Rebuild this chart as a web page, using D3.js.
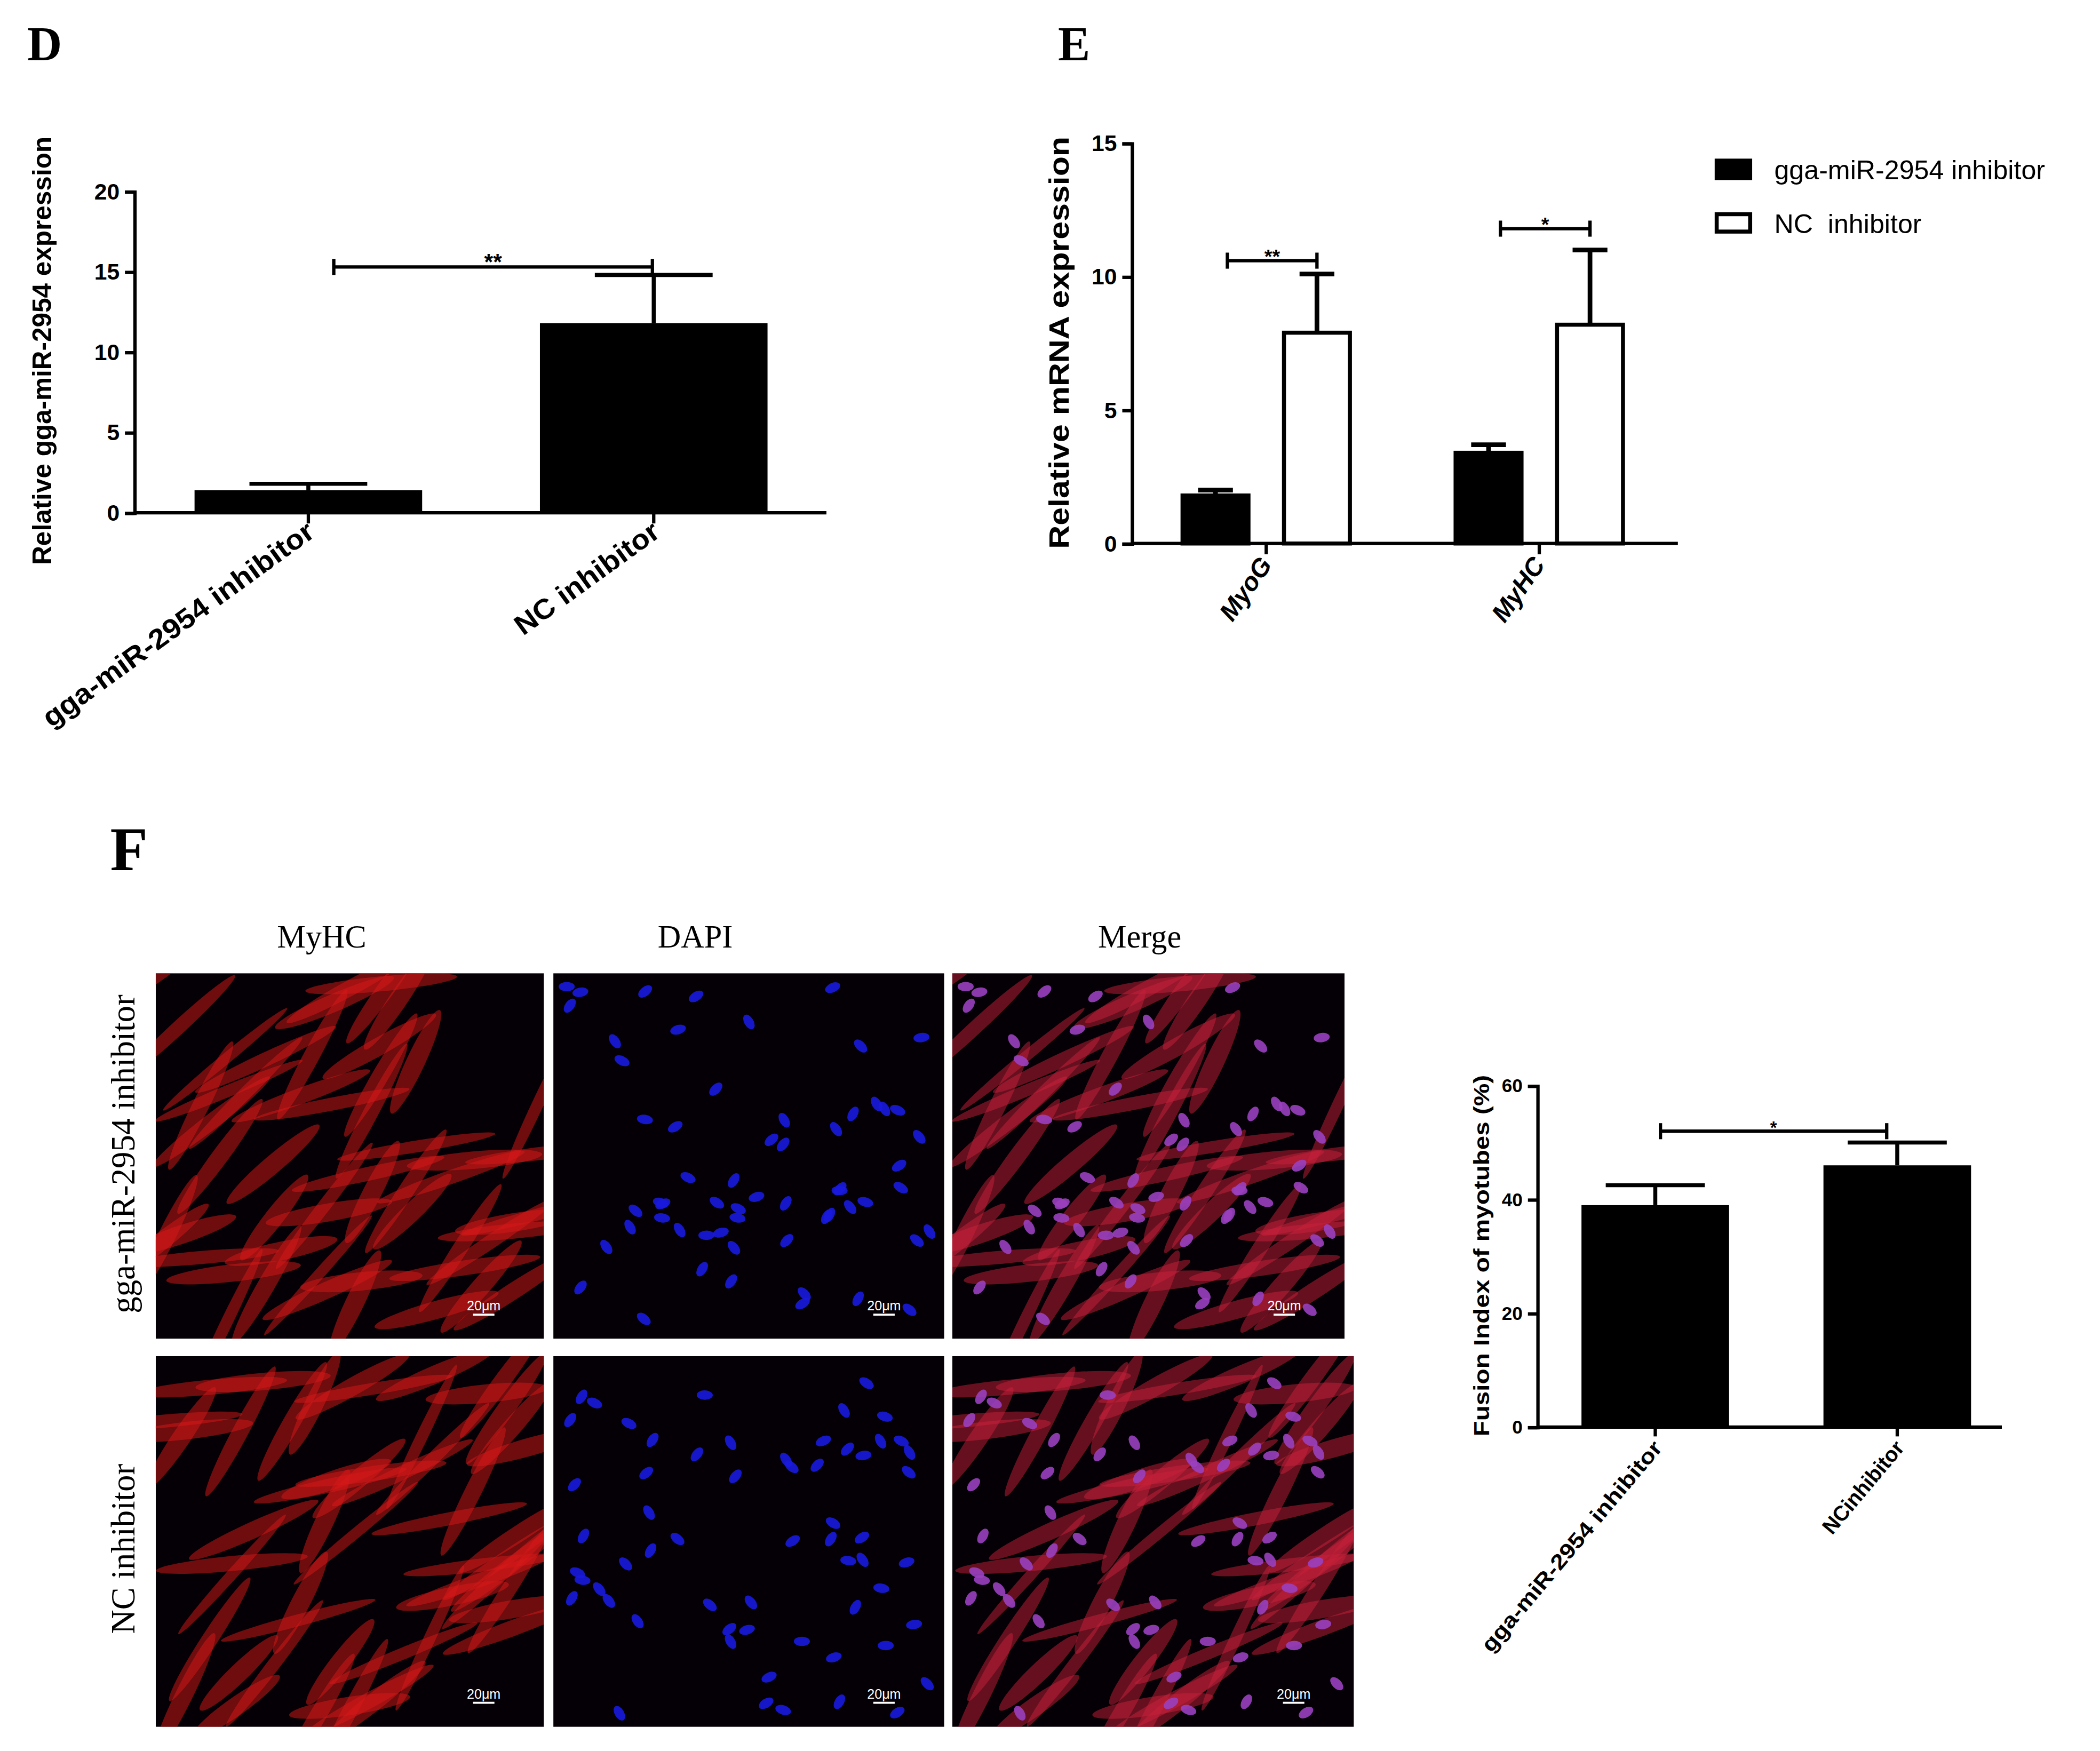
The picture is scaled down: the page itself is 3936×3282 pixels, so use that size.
<!DOCTYPE html>
<html><head><meta charset="utf-8">
<script src="https://cdn.jsdelivr.net/npm/d3@7"></script>
<style>body{margin:0;background:#fff}svg{display:block}</style></head>
<body><div id="c"></div>
<script>
const dCats = ["gga-miR-2954 inhibitor","NC inhibitor"];
const dVals = [1.4, 11.8];
const dErrs = [1.8, 14.8];
const dTicks = [0,5,10,15,20];

const eGenes = ["MyoG","MyHC"];
const eSeries = ["gga-miR-2954 inhibitor","NC  inhibitor"];
const eInh = [1.8, 3.4];
const eInhErr = [2.0, 3.7];
const eNC = [7.9, 8.2];
const eNCErr = [10.1, 11.0];
const eTicks = [0,5,10,15];
const eSig = ["**","*"];

const fCats = ["gga-miR-2954 inhibitor","NCinhibitor"];
const fVals = [39, 46];
const fErrs = [42.5, 50];
const fTicks = [0,20,40,60];

const W=1568,H=1308;
const svg=d3.select("#c").append("svg").attr("width",3936).attr("height",3282).attr("viewBox",`0 0 ${W} ${H}`);
const sans="'Liberation Sans',Arial,sans-serif", serif="'Liberation Serif','Times New Roman',serif";

function panelLetter(t,x,y,size){svg.append("text").attr("x",x).attr("y",y).text(t).attr("font-family",serif).attr("font-weight","bold").attr("font-size",size);}
panelLetter("D",20,45,36);panelLetter("E",790,45,36);panelLetter("F",82,650,46);

function bracket(g,x1,x2,y,label,fs){
  g.append("line").attr("x1",x1).attr("x2",x2).attr("y1",y).attr("y2",y).attr("stroke","#000").attr("stroke-width",2.5);
  g.append("line").attr("x1",x1).attr("x2",x1).attr("y1",y-6).attr("y2",y+6).attr("stroke","#000").attr("stroke-width",2.5);
  g.append("line").attr("x1",x2).attr("x2",x2).attr("y1",y-6).attr("y2",y+6).attr("stroke","#000").attr("stroke-width",2.5);
  g.append("text").attr("x",(x1+x2)/2).attr("y",y+2).attr("text-anchor","middle").text(label).attr("font-family",sans).attr("font-weight","bold").attr("font-size",fs);
}
function errBar(g,cx,y0,y1,hw,sw){
  g.append("line").attr("x1",cx).attr("x2",cx).attr("y1",y0).attr("y2",y1).attr("stroke","#000").attr("stroke-width",sw);
  g.append("line").attr("x1",cx-hw).attr("x2",cx+hw).attr("y1",y1).attr("y2",y1).attr("stroke","#000").attr("stroke-width",sw);
}
function yAxis(g,x,y,ticks,fs){
  const a=g.append("g").attr("transform",`translate(${x},0)`).call(d3.axisLeft(y).tickValues(ticks).tickSize(7).tickPadding(4));
  a.select(".domain").attr("stroke-width",2.5);a.selectAll("line").attr("stroke-width",2.5);
  a.selectAll("text").attr("font-family",sans).attr("font-weight","bold").attr("font-size",fs).attr("fill","#000");
}

// Panel D
{
 const g=svg.append("g");
 const y=d3.scaleLinear().domain([0,20]).range([383,143]);
 const x=d3.scaleBand().domain(dCats).range([145,573]).paddingInner(0.341).paddingOuter(0);
 yAxis(g,100,y,dTicks,17);
 dCats.forEach((c,i)=>{
  const cx=x(c)+x.bandwidth()/2;
  errBar(g,cx,y(dVals[i]),y(dErrs[i]),44,3);
  g.append("rect").attr("x",x(c)).attr("width",x.bandwidth()).attr("y",y(dVals[i])).attr("height",y(0)-y(dVals[i])).attr("fill","#000");
  g.append("line").attr("x1",cx).attr("x2",cx).attr("y1",383).attr("y2",391).attr("stroke","#000").attr("stroke-width",2.5);
  g.append("text").attr("transform",`translate(${cx+6},${400}) rotate(-36)`).attr("text-anchor","end").attr("font-family",sans).attr("font-weight","bold").attr("font-size",21).attr("textLength",i?128:245).attr("lengthAdjust","spacingAndGlyphs").text(c);
 });
 g.append("line").attr("x1",100).attr("x2",617).attr("y1",383).attr("y2",383).attr("stroke","#000").attr("stroke-width",2.5);
 bracket(g,249,487,y(15.3),"**",17);
 g.append("text").attr("transform","translate(38,262) rotate(-90)").attr("text-anchor","middle").attr("font-family",sans).attr("font-weight","bold").attr("font-size",20).attr("textLength",320).attr("lengthAdjust","spacingAndGlyphs").text("Relative gga-miR-2954 expression");
}
// Panel E
{
 const g=svg.append("g");
 const y=d3.scaleLinear().domain([0,15]).range([406,107]);
 const x=d3.scaleBand().domain(eGenes).range([883,1212]).paddingInner(0.387).paddingOuter(0);
 const xs=d3.scaleBand().domain([0,1]).range([0,x.bandwidth()]).paddingInner(0.35);
 yAxis(g,845,y,eTicks,17);
 eGenes.forEach((gn,i)=>{
  const vals=[eInh[i],eNC[i]],errs=[eInhErr[i],eNCErr[i]];
  [0,1].forEach(s=>{
   const bx=x(gn)+xs(s),cx=bx+xs.bandwidth()/2;
   errBar(g,cx,y(vals[s]),y(errs[s]),13,3.5);
   g.append("rect").attr("x",bx).attr("width",xs.bandwidth()).attr("y",y(vals[s])).attr("height",y(0)-y(vals[s])).attr("fill",s?"#fff":"#000").attr("stroke","#000").attr("stroke-width",3);
  });
  const cx=x(gn)+x.bandwidth()/2;
  g.append("line").attr("x1",cx).attr("x2",cx).attr("y1",406).attr("y2",414).attr("stroke","#000").attr("stroke-width",2.5);
  g.append("text").attr("transform",`translate(${cx+5},${422}) rotate(-55)`).attr("text-anchor","end").attr("font-family",sans).attr("font-weight","bold").attr("font-style","italic").attr("font-size",19).text(gn);
  const x1=x(gn)+xs(0)+xs.bandwidth()*0.68, x2=x(gn)+xs(1)+xs.bandwidth()/2;
  bracket(g,x1,x2,y(errs[1]+0.5+i*0.3),eSig[i],15);
 });
 g.append("line").attr("x1",845).attr("x2",1253).attr("y1",406).attr("y2",406).attr("stroke","#000").attr("stroke-width",2.5);
 g.append("text").attr("transform","translate(798,256) rotate(-90)").attr("text-anchor","middle").attr("font-family",sans).attr("font-weight","bold").attr("font-size",21).attr("textLength",308).attr("lengthAdjust","spacingAndGlyphs").text("Relative mRNA expression");
 eSeries.forEach((s,i)=>{
  g.append("rect").attr("x",1282).attr("y",120+i*40).attr("width",25).attr("height",13).attr("fill",i?"#fff":"#000").attr("stroke","#000").attr("stroke-width",3);
  g.append("text").attr("x",1325).attr("y",134+i*40).attr("font-family",sans).attr("font-size",20).attr("xml:space","preserve").style("white-space","pre").text(s);
 });
}
// Microscopy panels (illustrative)
{
 const g=svg.append("g");
 const cols=[[116,406],[413,705],[711,1004]], rows=[[727,1000],[1013,1290]];
 const titles=["MyHC","DAPI","Merge"], colX=[240,519,851];
 titles.forEach((t,i)=>g.append("text").attr("x",colX[i]).attr("y",708).attr("text-anchor","middle").attr("font-family",serif).attr("font-size",24).text(t));
 const rowLab=["gga-miR-2954 inhibitor","NC inhibitor"], rowC=[862,1157];
 rowLab.forEach((t,i)=>g.append("text").attr("transform",`translate(100,${rowC[i]}) rotate(-90)`).attr("text-anchor","middle").attr("font-family",serif).attr("font-size",25).text(t));
 const defs=svg.append("defs");
 rows.forEach((r,ri)=>cols.forEach((c,ci)=>{
  const x0=c[0],x1=(ri==1&&ci==2)?1011:c[1],y0=r[0],y1=r[1],w=x1-x0,h=y1-y0;
  const id=`clip${ri}${ci}`;
  defs.append("clipPath").attr("id",id).append("rect").attr("x",x0).attr("y",y0).attr("width",w).attr("height",h);
  const p=g.append("g").attr("clip-path",`url(#${id})`);
  p.append("rect").attr("x",x0).attr("y",y0).attr("width",w).attr("height",h).attr("fill","#050005");
  if(ci!==1){
   for(let k=0;k<55;k++){
    const fx=(Math.sin(k*12.9898+ri*3)*43758.5453)%1, fy=(Math.sin(k*78.233+ri*7)*12345.678)%1;
    const cx=x0+Math.abs(fx)*w, cy=y0+Math.abs(fy)*h;
    const ang=-35+30*Math.sin(k*1.7);
    p.append("ellipse").attr("cx",cx).attr("cy",cy).attr("rx",40+20*Math.abs(Math.sin(k))).attr("ry",4+3*Math.abs(Math.cos(k)))
     .attr("transform",`rotate(${ang},${cx},${cy})`).attr("fill",ci==2?"#c8203a":"#d81818").attr("opacity",0.5);
   }
  }
  if(ci!==0){
   for(let k=0;k<60;k++){
    const fx=(Math.sin(k*93.9898+ri*5)*23758.5453)%1, fy=(Math.sin(k*18.233+ri*2)*52345.678)%1;
    const cx=x0+10+Math.abs(fx)*(w-20), cy=y0+10+Math.abs(fy)*(h-20);
    p.append("ellipse").attr("cx",cx).attr("cy",cy).attr("rx",6).attr("ry",3.5).attr("transform",`rotate(${60*Math.sin(k)},${cx},${cy})`)
     .attr("fill",ci==1?"#1a1ae0":"#9a40c0").attr("opacity",0.9);
   }
  }
  p.append("line").attr("x1",x1-53).attr("x2",x1-37).attr("y1",y1-18).attr("y2",y1-18).attr("stroke","#fff").attr("stroke-width",1.5);
  p.append("text").attr("x",x1-45).attr("y",y1-21).attr("text-anchor","middle").attr("fill","#fff").attr("font-family",sans).attr("font-size",10).text("20μm");
 }));
}
// Fusion index chart
{
 const g=svg.append("g");
 const y=d3.scaleLinear().domain([0,60]).range([1066,811]);
 const x=d3.scaleBand().domain(fCats).range([1181,1472]).paddingInner(0.39).paddingOuter(0);
 yAxis(g,1148,y,fTicks,14);
 fCats.forEach((c,i)=>{
  const cx=x(c)+x.bandwidth()/2;
  errBar(g,cx,y(fVals[i]),y(fErrs[i]),37,3);
  g.append("rect").attr("x",x(c)).attr("width",x.bandwidth()).attr("y",y(fVals[i])).attr("height",y(0)-y(fVals[i])).attr("fill","#000");
  g.append("line").attr("x1",cx).attr("x2",cx).attr("y1",1066).attr("y2",1073).attr("stroke","#000").attr("stroke-width",2.5);
  g.append("text").attr("transform",`translate(${cx+6},${1082}) rotate(-50)`).attr("text-anchor","end").attr("font-family",sans).attr("font-weight","bold").attr("font-size",16).attr("textLength",i?85:200).attr("lengthAdjust","spacingAndGlyphs").text(c);
 });
 g.append("line").attr("x1",1148).attr("x2",1495).attr("y1",1066).attr("y2",1066).attr("stroke","#000").attr("stroke-width",2.5);
 bracket(g,1240,1409,y(52),"*",13);
 g.append("text").attr("transform","translate(1112,938) rotate(-90)").attr("text-anchor","middle").attr("font-family",sans).attr("font-weight","bold").attr("font-size",16).attr("textLength",270).attr("lengthAdjust","spacingAndGlyphs").text("Fusion Index of myotubes (%)");
}
</script></body></html>
